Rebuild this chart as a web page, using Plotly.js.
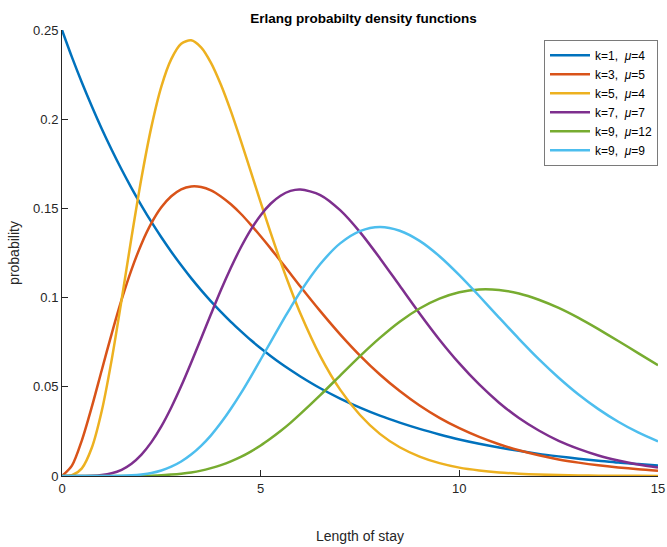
<!DOCTYPE html>
<html>
<head>
<meta charset="utf-8">
<script src="https://cdn.plot.ly/plotly-3.0.1.min.js"></script>
<style>html,body{margin:0;padding:0;background:#fff;}#chart{width:667px;height:547px;}</style>
</head>
<body>
<div id="chart"></div>
<script>
const xValues = [0,0.25,0.5,0.75,1,1.25,1.5,1.75,2,2.25,2.5,2.75,3,3.25,3.5,3.75,4,4.25,4.5,4.75,5,5.25,5.5,5.75,6,
  6.5,7,7.5,8,8.5,9,9.5,10,10.5,11,11.5,12,12.5,13,13.5,14,14.5,15];

const seriesNames = [
  "k=1,  <i>μ</i>=4",
  "k=3,  <i>μ</i>=5",
  "k=5,  <i>μ</i>=4",
  "k=7,  <i>μ</i>=7",
  "k=9,  <i>μ</i>=12",
  "k=9,  <i>μ</i>=9"
];

const k1mu4 = [0.25,0.2348,0.2206,0.2073,0.1947,0.1829,0.1718,0.1614,0.1516,0.1424,0.1338,0.1257,0.1181,0.1109,0.1042,0.0979,0.0920,0.0864,0.0812,0.0762,0.0716,0.0673,0.0632,0.0594,0.0558,
  0.0492,0.0434,0.0383,0.0338,0.0299,0.0264,0.0233,0.0205,0.0181,0.0160,0.0141,0.0124,0.0110,0.0097,0.0086,0.0075,0.0067,0.0059];
const k3mu5 = [0,0.0058,0.0200,0.0387,0.0593,0.0797,0.0988,0.1157,0.1301,0.1417,0.1506,0.1568,0.1607,0.1623,0.1620,0.1601,0.1567,0.1523,0.1470,0.1409,0.1344,0.1276,0.1205,0.1134,0.1062,
  0.0924,0.0794,0.0675,0.0569,0.0476,0.0395,0.0326,0.0268,0.0219,0.0178,0.0144,0.0116,0.0093,0.0075,0.0060,0.0048,0.0038,0.0030];
const k5mu4 = [0,0.0004,0.0043,0.0158,0.0364,0.0651,0.0988,0.1338,0.1670,0.1957,0.2183,0.2337,0.2423,0.2442,0.2403,0.2316,0.2193,0.2045,0.1880,0.1708,0.1534,0.1364,0.1202,0.1051,0.0911,
  0.0672,0.0484,0.0342,0.0236,0.0161,0.0109,0.0072,0.0047,0.0031,0.0020,0.0013,0.0008,0.0005,0.0003,0.0002,0.0001,0.0001,0.0000];
const k7mu7 = [0,0,0,0.0001,0.0005,0.0015,0.0035,0.0069,0.0120,0.0190,0.0278,0.0384,0.0504,0.0635,0.0771,0.0908,0.1042,0.1167,0.1281,0.1380,0.1462,0.1526,0.1571,0.1598,0.1606,
  0.1575,0.1490,0.1367,0.1221,0.1066,0.0911,0.0764,0.0631,0.0513,0.0411,0.0325,0.0255,0.0197,0.0152,0.0115,0.0087,0.0065,0.0048];
const k9mu12 = [0,0,0,0,0,0,0,0,0.0001,0.0002,0.0004,0.0008,0.0013,0.0020,0.0030,0.0044,0.0061,0.0082,0.0107,0.0137,0.0171,0.0210,0.0252,0.0298,0.0348,
  0.0453,0.0563,0.0672,0.0774,0.0865,0.0939,0.0994,0.1030,0.1046,0.1043,0.1023,0.0988,0.0942,0.0886,0.0823,0.0757,0.0689,0.0621];
const k9mu9 = [0,0,0,0,0,0,0.0001,0.0004,0.0009,0.0017,0.0031,0.0052,0.0081,0.0120,0.0169,0.0228,0.0298,0.0377,0.0463,0.0556,0.0653,0.0751,0.0849,0.0943,0.1033,
  0.1188,0.1304,0.1373,0.1396,0.1375,0.1318,0.1232,0.1126,0.1009,0.0888,0.0769,0.0655,0.0551,0.0457,0.0375,0.0304,0.0244,0.0194];

const seriesValues = [k1mu4, k3mu5, k5mu4, k7mu7, k9mu12, k9mu9];
const seriesColors = ["#0072BD","#D95319","#EDB120","#7E2F8E","#77AC30","#4DBEEE"];

const traces = seriesValues.map((ys, i) => ({
  x: xValues,
  y: ys,
  type: "scatter",
  mode: "lines",
  name: seriesNames[i],
  line: {color: seriesColors[i], width: 2.5, shape: "spline", smoothing: 0.8}
}));

const axisColor = "#262626";
const layout = {
  width: 667,
  height: 547,
  margin: {l: 62, r: 9, t: 30, b: 71},
  paper_bgcolor: "#ffffff",
  plot_bgcolor: "#ffffff",
  font: {family: "Liberation Sans, Arial, sans-serif", size: 12, color: axisColor},
  title: {
    text: "<b>Erlang probabilty density functions</b>",
    font: {family: "Liberation Sans, Arial, sans-serif", size: 13.5, color: "#000000"},
    x: 0.545, xanchor: "center", y: 0.967, yanchor: "middle"
  },
  showlegend: true,
  legend: {
    x: 1.0, xanchor: "right", y: 0.978, yanchor: "top",
    bgcolor: "#ffffff", bordercolor: "#7a7a7a", borderwidth: 1,
    font: {family: "Liberation Sans, Arial, sans-serif", size: 12, color: "#000000"},
    tracegroupgap: 0, itemwidth: 40
  },
  xaxis: {
    range: [0, 15],
    tickvals: [0, 5, 10, 15],
    ticktext: ["0", "5", "10", "15"],
    ticklabeloverflow: "allow",
    showgrid: false, zeroline: false,
    showline: true, linecolor: axisColor, linewidth: 1,
    ticks: "inside", ticklen: 6, tickcolor: axisColor,
    tickfont: {size: 13, color: axisColor},
    title: {text: "Length of stay", font: {size: 14, color: axisColor}, standoff: 36}
  },
  yaxis: {
    range: [0, 0.25],
    tickvals: [0, 0.05, 0.1, 0.15, 0.2, 0.25],
    ticktext: ["0", "0.05", "0.1", "0.15", "0.2", "0.25"],
    ticklabeloverflow: "allow",
    showgrid: false, zeroline: false,
    showline: true, linecolor: axisColor, linewidth: 1,
    ticks: "inside", ticklen: 6, tickcolor: axisColor,
    tickfont: {size: 13, color: axisColor},
    title: {text: "probability", font: {size: 14, color: axisColor}, standoff: 10}
  }
};

Plotly.newPlot("chart", traces, layout, {displayModeBar: false, staticPlot: true});
</script>
</body>
</html>
